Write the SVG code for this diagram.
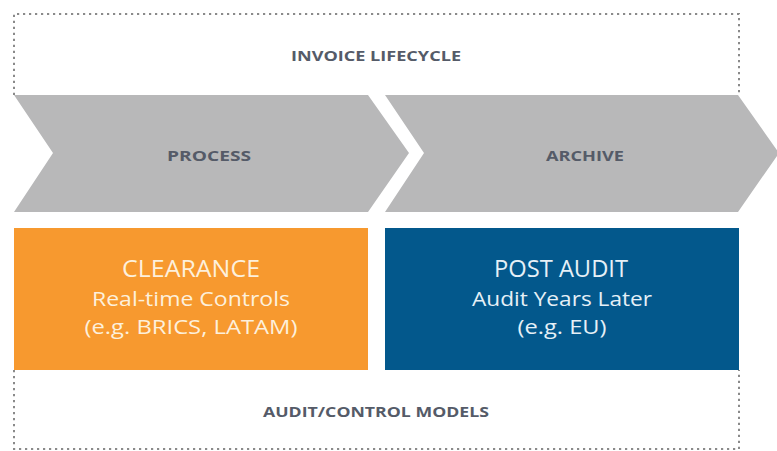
<svg xmlns="http://www.w3.org/2000/svg" width="777" height="451" viewBox="0 0 777 451">
<style>
.dot{fill:none;stroke:#8a8a8a;stroke-width:2;stroke-dasharray:2.2 3.8;}
.chev{fill:#b8b8b9;}
.hd{font-family:"Open Sans","Liberation Sans",sans-serif;font-weight:700;font-size:15px;fill:#555b68;text-anchor:middle;}
.bt{font-family:"Open Sans","Liberation Sans",sans-serif;fill:#fdf0dc;text-anchor:middle;}
.bb{font-family:"Open Sans","Liberation Sans",sans-serif;fill:#e6f0f7;text-anchor:middle;}
</style>
<rect width="777" height="451" fill="#ffffff"/>
<g id="lifecycle">
<path class="dot" d="M14,95 V14 H739 V95"/>
<text class="hd" x="376" y="61" textLength="170" lengthAdjust="spacingAndGlyphs">INVOICE LIFECYCLE</text>
</g>
<g id="process">
<polygon class="chev" points="14,95 368,95 409,153 368,212 14,212 53,153"/>
<text class="hd" x="209" y="161" textLength="84" lengthAdjust="spacingAndGlyphs">PROCESS</text>
</g>
<g id="archive">
<polygon class="chev" points="385,95 738,95 779,153 738,212 385,212 424,153"/>
<text class="hd" x="585" y="161" textLength="78" lengthAdjust="spacingAndGlyphs">ARCHIVE</text>
</g>
<g id="clearance">
<rect x="14" y="228" width="354" height="142" fill="#f7992f"/>
<text class="bt" x="191" y="277" font-size="23" textLength="138" lengthAdjust="spacingAndGlyphs">CLEARANCE</text>
<text class="bt" x="191" y="306" font-size="20" textLength="198" lengthAdjust="spacingAndGlyphs">Real-time Controls</text>
<text class="bt" x="191" y="334" font-size="20" textLength="213" lengthAdjust="spacingAndGlyphs">(e.g. BRICS, LATAM)</text>
</g>
<g id="postaudit">
<rect x="385" y="228" width="354" height="142" fill="#03588c"/>
<text class="bb" x="561" y="277" font-size="23" textLength="134" lengthAdjust="spacingAndGlyphs">POST AUDIT</text>
<text class="bb" x="562" y="306" font-size="20" textLength="180" lengthAdjust="spacingAndGlyphs">Audit Years Later</text>
<text class="bb" x="562" y="334" font-size="20" textLength="89" lengthAdjust="spacingAndGlyphs">(e.g. EU)</text>
</g>
<g id="models">
<path class="dot" d="M14,370 V449 H739 V370"/>
<text class="hd" x="376" y="417" textLength="226" lengthAdjust="spacingAndGlyphs">AUDIT/CONTROL MODELS</text>
</g>
</svg>
